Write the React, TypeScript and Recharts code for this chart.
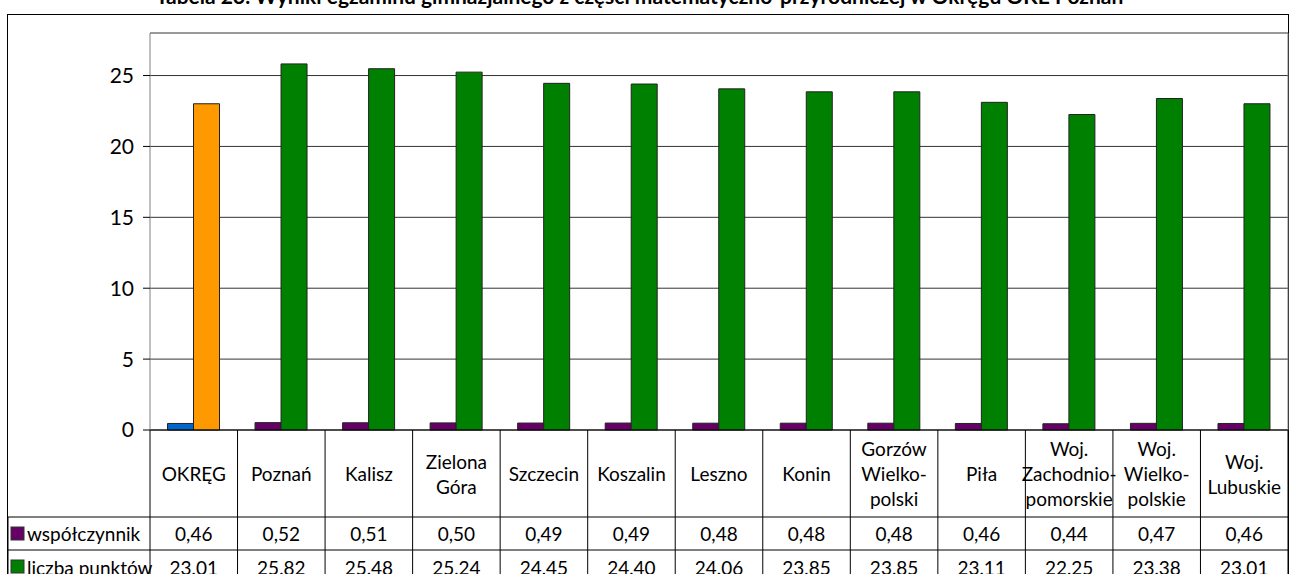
import React from "react";
import { Bar, BarChart, CartesianGrid, Cell, ReferenceLine, XAxis, YAxis } from "recharts";

const FONT = "Lato, 'Open Sans', sans-serif";

const regions = [
  "OKRĘG",
  "Poznań",
  "Kalisz",
  "Zielona\nGóra",
  "Szczecin",
  "Koszalin",
  "Leszno",
  "Konin",
  "Gorzów\nWielko-\npolski",
  "Piła",
  "Woj.\nZachodnio-\npomorskie",
  "Woj.\nWielko-\npolskie",
  "Woj.\nLubuskie",
];
const wspolczynnik = [0.46, 0.52, 0.51, 0.5, 0.49, 0.49, 0.48, 0.48, 0.48, 0.46, 0.44, 0.47, 0.46];
const liczbaPunktow = [23.01, 25.82, 25.48, 25.24, 24.45, 24.4, 24.06, 23.85, 23.85, 23.11, 22.25, 23.38, 23.01];
const yTicks = [0, 5, 10, 15, 20, 25];

const TITLE =
  "Tabela 23. Wyniki egzaminu gimnazjalnego z części matematyczno-przyrodniczej w Okręgu OKE Poznań";

const data = regions.map((name, i) => ({ name, wsp: wspolczynnik[i], pkt: liczbaPunktow[i] }));

const W = 1291;
const H = 574;
const PLOT_LEFT = 150;
const PLOT_RIGHT = 1288;
const BAND = (PLOT_RIGHT - PLOT_LEFT) / regions.length;
const AXIS_Y = 430;
const ROW2 = 517;
const ROW3 = 550;
const TABLE_BOTTOM = 600;
const FRAME_LEFT = 8;

const fmt = (v: number) => v.toFixed(2).replace(".", ",");

function TableTick(props: any) {
  const { x, payload } = props;
  const i = payload.index as number;
  const left = x - BAND / 2;
  const right = x + BAND / 2;
  const lines = String(payload.value).split("\n");
  const lh = 25;
  const startY = (AXIS_Y + ROW2) / 2 - ((lines.length - 1) * lh) / 2;
  const txt = { fontFamily: FONT, fontSize: 19, fill: "#000" };
  return (
    <g>
      <line x1={left} x2={left} y1={AXIS_Y} y2={TABLE_BOTTOM} stroke="#000" />
      {i === regions.length - 1 ? <line x1={right} x2={right} y1={AXIS_Y} y2={TABLE_BOTTOM} stroke="#000" /> : null}
      <line x1={i === 0 ? FRAME_LEFT : left} x2={right} y1={ROW2} y2={ROW2} stroke="#000" />
      <line x1={i === 0 ? FRAME_LEFT : left} x2={right} y1={ROW3} y2={ROW3} stroke="#000" />
      {i === 0 ? (
        <g>
          <line x1={FRAME_LEFT} x2={FRAME_LEFT} y1={ROW2} y2={TABLE_BOTTOM} stroke="#000" />
          <rect x={11} y={527} width={13} height={13} fill="#660066" stroke="#333" />
          <text {...txt} x={27} y={(ROW2 + ROW3) / 2} dominantBaseline="central">
            współczynnik
          </text>
          <rect x={11} y={560} width={13} height={13} fill="#008000" stroke="#333" />
          <text {...txt} x={27} y={ROW3 + 17} dominantBaseline="central">
            liczba punktów
          </text>
        </g>
      ) : null}
      {lines.map((l, k) => (
        <text key={k} {...txt} x={x} y={startY + k * lh} textAnchor="middle" dominantBaseline="central">
          {l}
        </text>
      ))}
      <text {...txt} x={x} y={(ROW2 + ROW3) / 2} textAnchor="middle" dominantBaseline="central">
        {fmt(wspolczynnik[i])}
      </text>
      <text {...txt} x={x} y={ROW3 + 17} textAnchor="middle" dominantBaseline="central">
        {fmt(liczbaPunktow[i])}
      </text>
    </g>
  );
}

export default function App() {
  return (
    <div style={{ position: "absolute", left: 0, top: 0, width: W, height: H, overflow: "hidden", background: "#fff" }}>
      <div
        style={{
          position: "absolute",
          left: 0,
          width: W,
          top: -15,
          textAlign: "center",
          fontFamily: FONT,
          fontWeight: 700,
          fontSize: 21,
          lineHeight: "22px",
          whiteSpace: "nowrap",
          paddingRight: 12,
          boxSizing: "border-box",
        }}
      >
        {TITLE}
      </div>
      <div
        style={{
          position: "absolute",
          left: 7,
          top: 14,
          width: W - 9,
          height: H,
          border: "1px solid #000",
          boxSizing: "border-box",
        }}
      />
      <div style={{ position: "absolute", left: 0, top: 0 }}>
        <BarChart
          width={W}
          height={H}
          data={data}
          margin={{ top: 33, right: 0, bottom: 0, left: 0 }}
          barCategoryGap="20%"
          barGap={0}
        >
          <CartesianGrid vertical={false} stroke="#333" />
          <XAxis
            dataKey="name"
            height={H - AXIS_Y}
            interval={0}
            tickLine={false}
            axisLine={{ stroke: "#000" }}
            tick={<TableTick />}
          />
          <YAxis
            domain={[0, 28]}
            ticks={yTicks}
            width={PLOT_LEFT}
            tickSize={7}
            tickMargin={9}
            tickLine={{ stroke: "#000" }}
            axisLine={{ stroke: "#808080" }}
            tick={{ fill: "#000", fontSize: 21, fontFamily: FONT }}
          />
          <YAxis yAxisId="r" orientation="right" width={W - PLOT_RIGHT} tick={false} tickLine={false} axisLine={{ stroke: "#808080" }} />
          <ReferenceLine y={28} stroke="#999" />
          <Bar dataKey="wsp" fill="#660066" stroke="#222" isAnimationActive={false}>
            {data.map((_, i) => (
              <Cell key={i} fill={i === 0 ? "#0066CC" : "#660066"} />
            ))}
          </Bar>
          <Bar dataKey="pkt" fill="#008000" stroke="#222" isAnimationActive={false}>
            {data.map((_, i) => (
              <Cell key={i} fill={i === 0 ? "#FF9900" : "#008000"} />
            ))}
          </Bar>
        </BarChart>
      </div>
    </div>
  );
}
